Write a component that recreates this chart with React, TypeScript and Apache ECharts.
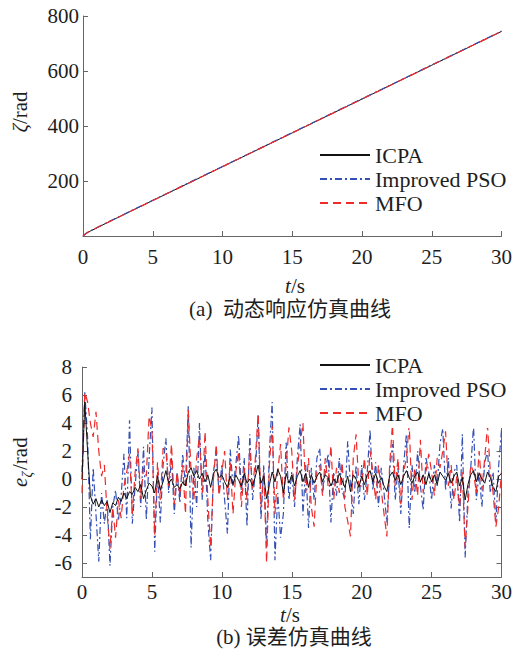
import React, { useEffect, useRef } from "react";
import * as echarts from "echarts";

const FONT = "Liberation Serif";
const CJK = "Liberation Serif, Noto Sans CJK SC";
const SERIES_NAMES = ["ICPA", "Improved PSO", "MFO"];
const X_TICKS = [0, 5, 10, 15, 20, 25, 30];
const ERR_TICKS = [-6, -4, -2, 0, 2, 4, 6, 8];

// (a) dynamic response: time stamps (s) and angle (rad)
const respT = [0, 0.2, 0.4, 0.7, 1, 2, 5, 10, 15, 20, 25, 30];
const respICPA = [0, 8, 15, 22, 30, 55, 129, 252, 375, 498, 621, 744];
const respPSO = [0, 9, 16, 23, 31, 56, 130, 253, 376, 499, 622, 745];
const respMFO = [0, 8, 15, 22, 30, 55, 129, 252, 375, 498, 621, 744];

// (b) error curves sampled every 0.2 s from 0 to 30 s
const ERR_STEP = 0.2;
const errICPA = [
  0, 5.5, 2.0, -1.2, -1.8, -1.4, -2.0, -1.5, -1.9, -1.6, -2.4, -1.7, -1.9, -1.3, -1.6, -1.0, -1.4, -0.9, -1.1, -0.6, -0.9, -0.4, -1.4, -0.8, -0.3,
  -0.5, -1.0, 0.2, -0.8, -0.2, 0.6, -0.3, 0.0, -0.6, -0.4, -0.7, -0.2, -0.5, 0.5, 0.8, 0.2, 0.6, 0.0, 0.4, -0.2, 0.3, -0.6, 0.4, 0.7, 0.1,
  0.3, -0.2, -0.6, 0.2, -0.4, 0.3, -0.1, -0.5, 0.4, -0.3, 0.0, -0.5, 0.2, 1.0, -0.3, 0.2, -1.4, -0.4, 0.5, -0.2, 0.7, 0.2, -1.0, 0.4, -0.3,
  0.3, -0.5, 0.2, 0.6, -0.2, 0.4, -0.6, 0.3, -0.3, 0.2, 0.5, -0.2, 0.3, 0.1, -0.5, 0.0, -0.3, 0.4, -0.1, -0.6, 0.2, -0.9, 0.3, 0.0, -0.6,
  0.2, -0.4, 0.3, 0.6, -0.2, 0.4, -0.3, 0.1, -0.5, -0.9, 0.2, 0.5, -0.1, 0.3, -0.4, 0.2, 0.6, 0.1, -0.3, 0.2, 0.5, -0.2, 0.3, -0.4, 0.4,
  -0.2, 0.3, -0.4, 0.5, 0.2, -0.1, 0.4, -0.3, 0.2, 0.5, -0.5, 0.1, -1.5, -0.4, 0.3, 0.6, -0.2, 0.4, 0.0, -0.3, 0.5, 0.1, -0.6, -0.9, 0.2, 0.4,
];
const errPSO = [
  0.5, 6.2, 3.0, -4.3, 0.8, -2.5, -5.9, -1.0, -3.2, -1.5, -6.2, -2.0, -0.8, -3.0, -1.2, 1.8, -2.8, 4.2, -3.2, -0.5, 2.0, -2.0, 2.3, -2.9, 1.5,
  5.1, -5.2, 0.5, -3.1, 1.0, 2.9, -1.0, 1.5, -2.5, 0.5, -1.7, 1.8, -0.5, 5.2, -4.9, 0.8, -2.0, 4.0, -1.5, 2.0, -3.0, -5.8, 0.5, 1.9, -1.0,
  1.0, -1.5, -3.9, 2.1, -0.5, 1.0, 3.1, -1.0, 1.5, -3.4, 3.2, -1.5, 0.5, 4.6, -2.9, 1.0, -4.9, 2.0, 5.5, -5.8, -1.0, -4.2, -2.5, 2.6, -1.5,
  0.5, -2.0, 1.5, 3.9, -2.6, 1.0, -3.5, 0.8, -1.5, 1.5, 2.2, -1.0, 0.5, 1.8, -3.1, 0.5, -1.2, 1.5, -0.8, -1.5, 2.7, -0.5, -2.5, 1.0, -1.8,
  1.0, -1.5, 0.5, 3.5, -0.8, 1.2, -2.0, 0.8, -1.0, -3.1, 0.5, 2.5, -1.5, 0.8, -2.5, 1.0, 3.2, -3.5, 1.0, -1.0, 2.0, -0.5, -2.2, 1.5, 0.5,
  -1.5, 1.0, -0.5, 2.5, 3.6, -0.8, 1.5, -2.1, 0.5, 1.0, -3.1, 3.2, -5.6, -1.0, 0.8, 3.8, -1.5, 0.5, -2.0, 1.2, 2.0, -1.0, 0.5, -3.1, 1.0, 3.5,
];
const errMFO = [
  -1.0, 6.2, 5.5, 4.0, 3.0, 4.8, 2.0, 0.2, 1.0, -2.5, -5.0, -2.0, -4.2, -1.5, -2.8, -0.5, 0.5, 1.8, -2.5, 0.5, 2.2, -1.4, 0.8, 0.2, 4.5,
  3.5, -4.0, 1.2, -1.5, 2.2, 2.0, -0.5, 2.5, -1.8, 0.5, -1.2, 1.0, -2.5, 5.0, 0.5, -1.5, 1.5, 3.0, -1.0, 3.4, -1.5, -4.9, 0.0, 2.5, -1.2,
  0.5, 2.0, -1.5, 1.2, -2.5, 0.5, 2.0, -2.0, 0.8, -1.5, 2.2, -0.8, 1.5, 4.7, -2.0, 0.5, -6.0, 1.0, 3.8, -2.5, 0.5, 2.5, -1.5, 1.0, 3.7,
  2.0, -1.5, 0.8, 2.5, 4.0, -1.0, 1.5, -2.0, -3.4, 0.5, 1.0, -1.2, 1.5, -0.5, 2.4, -1.5, 0.8, -1.0, 1.2, -2.0, -3.0, -4.1, 1.5, 3.2, -0.5,
  -0.5, 1.5, -1.2, 2.0, 0.5, -1.5, 1.0, -0.8, -2.5, -4.1, 1.0, 3.9, -0.5, 1.5, -1.8, 0.5, 1.5, 3.9, -1.5, 0.8, -1.2, 2.8, -1.0, 0.5, 1.8,
  0.5, -1.2, 1.5, 0.8, 2.0, 3.4, -0.5, 1.0, -1.5, 0.2, -2.0, 0.5, -4.9, -2.0, 1.0, 0.5, -1.0, 2.0, -0.8, 1.5, 3.8, 0.5, -1.0, -3.4, -2.0, 0.5,
];

const AXIS_COLOR = "#666";
const TEXT_COLOR = "#1e1e1e";
const STYLES = [
  { color: "#111111", width: 1, type: "solid" as any },
  { color: "#3450b4", width: 1.2, type: [7, 3, 2, 3] as any },
  { color: "#ee2a2a", width: 1.2, type: [8, 5] as any },
];

const labelStyle = { color: TEXT_COLOR, fontSize: 21, fontFamily: FONT };

function xAxisFor(gridIndex: number, margin: number) {
  return {
    gridIndex,
    type: "value",
    min: 0,
    max: 30,
    interval: 5,
    axisLine: { show: true, onZero: false, lineStyle: { color: AXIS_COLOR, width: 1 } },
    axisTick: { show: true, inside: true, length: 5, lineStyle: { color: AXIS_COLOR } },
    axisLabel: { ...labelStyle, margin, customValues: X_TICKS },
    splitLine: { show: false },
  };
}

function buildOption() {
  const respPairs = (vals: number[]) => respT.map((t, i) => [t, vals[i]]);
  const errPairs = (vals: number[]) => vals.map((v, i) => [+(i * ERR_STEP).toFixed(1), v]);
  const respData = [respICPA, respPSO, respMFO];
  const errData = [errICPA, errPSO, errMFO];
  const zTop = [2, 3, 4];
  const zBottom = [4, 2, 3];

  const series: any[] = [];
  SERIES_NAMES.forEach((name, k) => {
    series.push({
      name,
      type: "line",
      xAxisIndex: 0,
      yAxisIndex: 0,
      data: respPairs(respData[k]),
      symbol: "none",
      lineStyle: STYLES[k],
      itemStyle: { color: STYLES[k].color },
      z: zTop[k],
    });
  });
  SERIES_NAMES.forEach((name, k) => {
    series.push({
      name,
      type: "line",
      xAxisIndex: 1,
      yAxisIndex: 1,
      data: errPairs(errData[k]),
      symbol: "none",
      lineStyle: STYLES[k],
      itemStyle: { color: STYLES[k].color },
      z: zBottom[k],
    });
  });

  const legendBase = {
    data: SERIES_NAMES,
    orient: "vertical",
    itemWidth: 50,
    itemHeight: 12,
    itemGap: 2,
    itemStyle: { color: "rgba(0,0,0,0)", borderWidth: 0, opacity: 0 },
    textStyle: { color: TEXT_COLOR, fontSize: 22, fontFamily: FONT },
    selectedMode: false,
  };

  const txt = (text: string, x: number, y: number, extra: any = {}) => ({
    type: "text",
    x,
    y,
    style: {
      text,
      fill: TEXT_COLOR,
      fontSize: 21,
      fontFamily: FONT,
      align: "center",
      verticalAlign: "middle",
      ...extra,
    },
  });

  const rich = {
    i: { fontStyle: "italic", fontSize: 21, fontFamily: FONT, fill: TEXT_COLOR },
    n: { fontSize: 21, fontFamily: FONT, fill: TEXT_COLOR },
  };

  return {
    animation: false,
    backgroundColor: "#ffffff",
    grid: [
      { left: 83, top: 16, width: 419, height: 220 },
      { left: 82, top: 367, width: 420, height: 210 },
    ],
    xAxis: [xAxisFor(0, 10), xAxisFor(1, 4)],
    yAxis: [
      {
        gridIndex: 0,
        type: "value",
        min: 0,
        max: 800,
        interval: 200,
        axisLine: { show: true, lineStyle: { color: AXIS_COLOR } },
        axisTick: { show: true, inside: true, length: 5, lineStyle: { color: AXIS_COLOR } },
        axisLabel: { ...labelStyle, margin: 4, formatter: (v: number) => (v === 0 ? "" : String(v)) },
        splitLine: { show: false },
      },
      {
        gridIndex: 1,
        type: "value",
        min: -7,
        max: 8,
        axisLine: { show: true, lineStyle: { color: AXIS_COLOR } },
        axisTick: { show: true, inside: true, length: 5, lineStyle: { color: AXIS_COLOR }, customValues: ERR_TICKS },
        axisLabel: { ...labelStyle, margin: 10, customValues: ERR_TICKS },
        splitLine: { show: false },
      },
      {
        gridIndex: 1,
        type: "value",
        position: "right",
        min: -7,
        max: 8,
        axisLine: { show: true, lineStyle: { color: AXIS_COLOR } },
        axisTick: { show: true, inside: true, length: 5, lineStyle: { color: AXIS_COLOR }, customValues: ERR_TICKS },
        axisLabel: { show: false },
        splitLine: { show: false },
      },
    ],
    legend: [
      { ...legendBase, left: 314, top: 139 },
      {
        ...legendBase,
        left: 314,
        top: 349,
        padding: [5, 12, 4, 5],
        backgroundColor: "#ffffff",
      },
    ],
    graphic: [
      {
        type: "text",
        x: 20,
        y: 112,
        rotation: Math.PI / 2,
        style: { text: "{i|ζ}{n|/rad}", rich, align: "center", verticalAlign: "middle", fontSize: 21, fontFamily: FONT },
      },
      {
        type: "text",
        x: 295,
        y: 286,
        style: { text: "{i|t}{n|/s}", rich, align: "center", verticalAlign: "middle", fontSize: 21, fontFamily: FONT },
      },
      txt("(a)  动态响应仿真曲线", 290, 309, { fontFamily: CJK }),
      {
        type: "group",
        x: 20,
        y: 462,
        rotation: Math.PI / 2,
        children: [
          { type: "text", x: -25, y: 0, style: { text: "e", fontStyle: "italic", fontSize: 21, fontFamily: FONT, fill: TEXT_COLOR, align: "left", verticalAlign: "middle" } },
          { type: "text", x: -15.5, y: 7, style: { text: "ζ", fontStyle: "italic", fontSize: 14, fontFamily: FONT, fill: TEXT_COLOR, align: "left", verticalAlign: "middle" } },
          { type: "text", x: -8, y: 0, style: { text: "/rad", fontSize: 21, fontFamily: FONT, fill: TEXT_COLOR, align: "left", verticalAlign: "middle" } },
        ],
      },
      {
        type: "text",
        x: 290,
        y: 615,
        style: { text: "{i|t}{n|/s}", rich, align: "center", verticalAlign: "middle", fontSize: 21, fontFamily: FONT },
      },
      txt("(b) 误差仿真曲线", 294, 637, { fontFamily: CJK }),
    ],
    series,
  };
}

export default function App() {
  const ref = useRef<HTMLDivElement>(null);
  useEffect(() => {
    if (!ref.current) return;
    const chart = echarts.init(ref.current, null, { renderer: "svg" });
    chart.setOption(buildOption() as any);
    return () => chart.dispose();
  }, []);
  return (
    <div
      ref={ref}
      style={{ position: "fixed", left: 0, top: 0, width: 515, height: 663, background: "#fff" }}
    />
  );
}
